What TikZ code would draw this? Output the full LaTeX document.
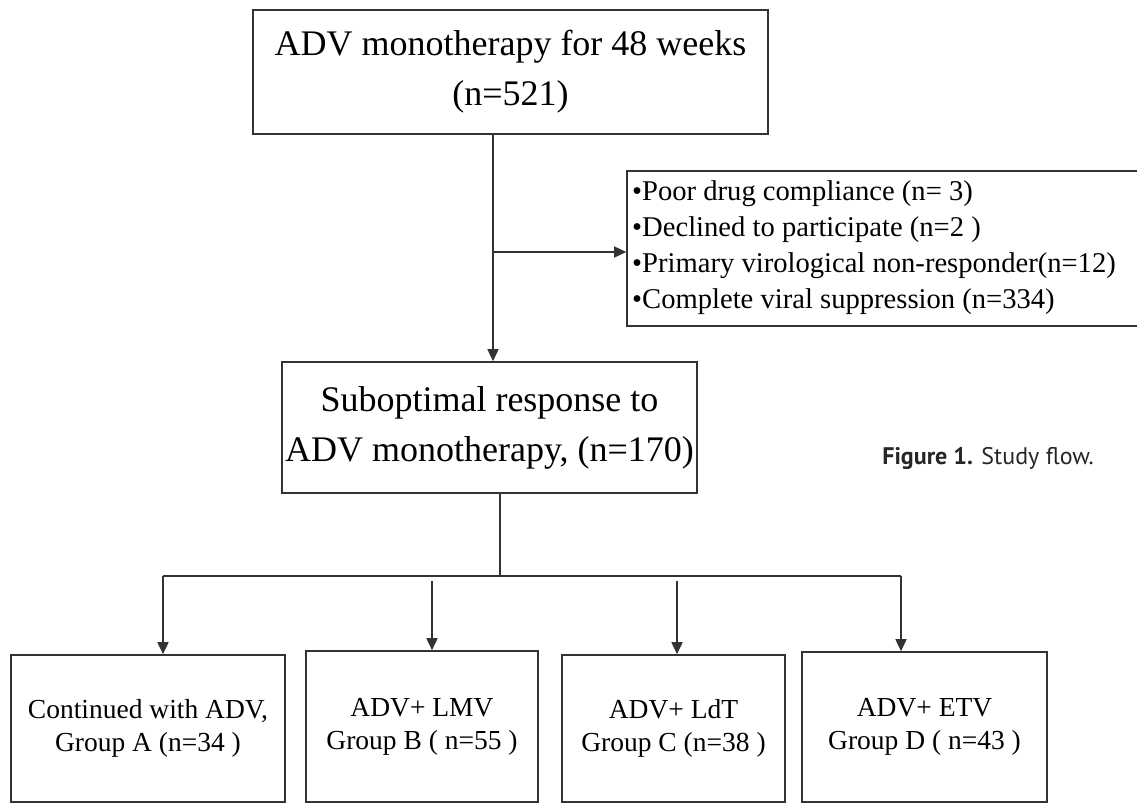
\documentclass[tikz,border=0pt]{standalone}
\usepackage{fontspec}
\setmainfont{Liberation Serif}
\newfontfamily\capfont{PT Sans}
\usetikzlibrary{arrows.meta}
\begin{document}
\begin{tikzpicture}[x=1pt,y=-1pt,
 box/.style={draw=black!80, line width=1.6pt, inner sep=0pt, align=center},
 big/.style={font=\fontsize{36}{50}\selectfont},
 mid/.style={font=\fontsize{28.6}{36}\selectfont},
 small/.style={font=\fontsize{27.5}{33}\selectfont},
 conn/.style={draw=black!80, line width=1.6pt},
 arr/.style={conn, -{Triangle[length=12pt,width=11pt]}}]
\useasboundingbox (0,0) rectangle (1137,803);
% boxes
\node[box,big,minimum width=515,minimum height=124] (top) at (510.5,72) {ADV monotherapy for 48 weeks\\(n=521)};
\node[box,minimum width=518,minimum height=155] (excl) at (886,248.5) {};
\node[mid,anchor=west,align=left,inner sep=0pt] (excltext) at (632,248) {%
\textbullet Poor drug compliance (n= 3)\\
\textbullet Declined to participate (n=2 )\\
\textbullet Primary virological non-responder(n=12)\\
\textbullet Complete viral suppression (n=334)};
\node[box,big,minimum width=415,minimum height=131] (sub) at (489.5,427.5) {Suboptimal response to\\ADV monotherapy, (n=170)};
\node[box,small,minimum width=274,minimum height=147] (A) at (148,728.5) {Continued with ADV,\\Group A (n=34 )};
\node[box,small,minimum width=232,minimum height=151] (B) at (422,726.5) {ADV+ LMV\\Group B ( n=55 )};
\node[box,small,minimum width=223,minimum height=147] (C) at (673.5,728.5) {ADV+ LdT\\Group C (n=38 )};
\node[box,small,minimum width=245,minimum height=150] (D) at (924.5,727) {ADV+ ETV\\Group D ( n=43 )};
\node[font=\capfont\fontsize{24}{28}\selectfont, text=black!85] (cap) at (988,458) {\textbf{Figure 1.} Study flow.};
% connectors
\coordinate (m) at (493,0);
\draw[arr] (top.south -| m) -- (sub.north -| m);
\coordinate (j1) at (493,252);
\draw[arr] (j1) -- (j1 -| excl.west);
\coordinate (s) at (500,576);
\draw[conn] (sub.south -| s) -- (s);
\coordinate (hl) at (163,576);
\coordinate (hr) at (901,576);
\draw[conn] (hl) -- (hr);
\draw[arr] (hl) -- (hl |- A.north);
\draw[arr] (hr) -- (hr |- D.north);
\coordinate (bb) at (432,581);
\draw[arr] (bb) -- (bb |- B.north);
\coordinate (cc) at (677,581);
\draw[arr] (cc) -- (cc |- C.north);
\end{tikzpicture}
\end{document}
